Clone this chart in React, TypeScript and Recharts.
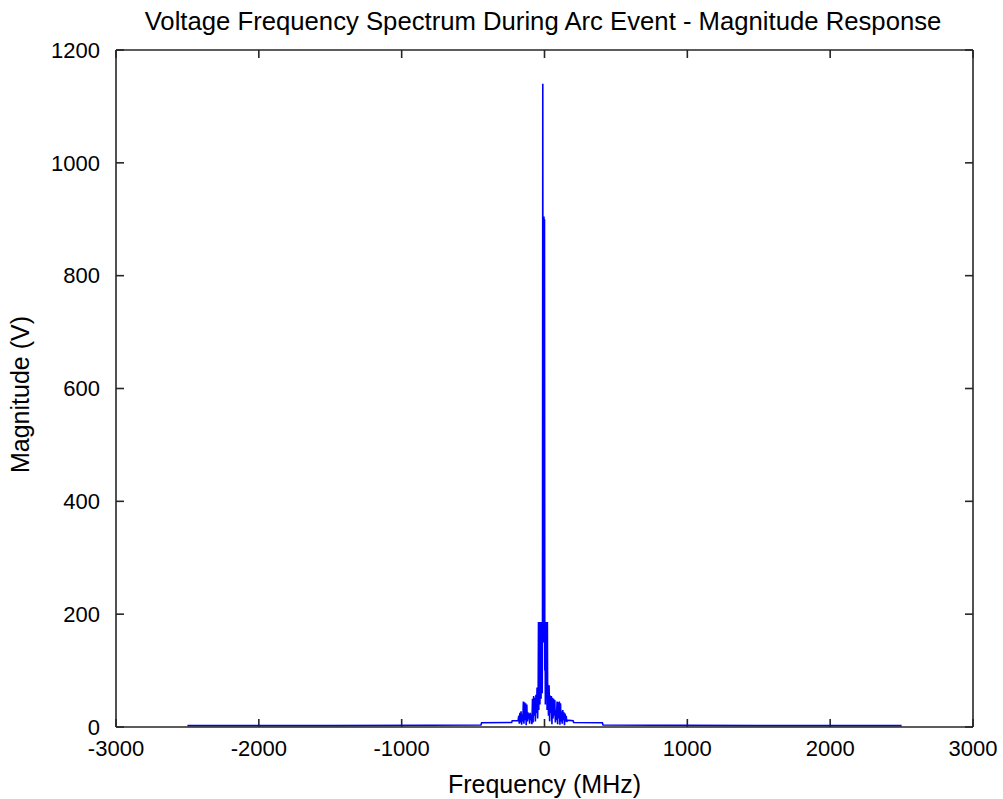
import React from 'react';
import { LineChart, Line, XAxis, YAxis, Label, ReferenceLine } from 'recharts';

// frequency (MHz) and magnitude (V)
const freqMHz = [
    -2500, -1500, -800, -445, -440, -230, -226, -185, -180, -176,
    -172, -168, -164, -160, -156, -152, -148, -144, -140, -136,
    -132, -128, -124, -120, -116, -112, -108, -104, -100, -96,
    -92, -88, -84, -80, -76, -72, -68, -64, -60, -56,
    -52, -48, -44, -42, -40, -38, -36, -34, -32, -30,
    -28, -26, -24, -22, -20, -18, -16, -14, -12, -10,
    -8, -6, -4, -2, 0, 2, 4, 6, 8, 10,
    12, 14, 16, 18, 20, 22, 24, 28, 32, 36,
    40, 44, 48, 52, 56, 60, 64, 68, 72, 76,
    80, 84, 88, 92, 96, 100, 104, 108, 112, 116,
    120, 124, 128, 132, 136, 140, 144, 148, 152, 156,
    160, 200, 204, 405, 410, 1500, 2500,
];
const magnitudeV = [
    2.5, 2.5, 3, 3.5, 7.5, 8, 11, 11, 20, 6,
    25, 8, 28, 4, 22, 10, 45, 6, 44, 12,
    42, 3, 40, 10, 26, 14, 24, 6, 25, 12,
    22, 5, 50, 8, 55, 20, 52, 10, 57, 25,
    70, 15, 75, 186, 30, 185, 60, 186, 40, 184,
    70, 186, 50, 185, 80, 186, 60, 185, 1140, 300,
    905, 150, 905, 200, 900, 100, 186, 40, 185, 70,
    186, 50, 185, 30, 186, 60, 75, 20, 74, 10,
    56, 25, 55, 5, 52, 15, 50, 20, 48, 8,
    30, 12, 45, 5, 44, 15, 45, 4, 42, 10,
    28, 6, 30, 12, 26, 3, 24, 10, 20, 9,
    12, 11, 8, 7.5, 3.5, 2.5, 2.5,
];

const xTicks = [-3000, -2000, -1000, 0, 1000, 2000, 3000];
const yTicks = [0, 200, 400, 600, 800, 1000, 1200];
const X_DOMAIN: [number, number] = [-3000, 3000];
const Y_DOMAIN: [number, number] = [0, 1200];

const data = freqMHz.map((f, i) => ({ freq: f, mag: magnitudeV[i] }));

const FONT = 'Liberation Sans, Arial, sans-serif';
const AXIS_COLOR = '#262626';
const AXIS_W = 1.6;

// plot box is ~857 x 678 px; inward tick length of ~8px in data units
const X_TICK_LEN = (8 / 857) * (X_DOMAIN[1] - X_DOMAIN[0]);
const Y_TICK_LEN = (8 / 678) * (Y_DOMAIN[1] - Y_DOMAIN[0]);

const tickStyle = { fill: '#000', fontSize: 22, fontFamily: FONT };
const axisLine = { stroke: AXIS_COLOR, strokeWidth: AXIS_W };

export default function App() {
    return (
        <div style={{ position: 'absolute', left: 0, top: 0, width: 1003, height: 799, background: '#fff' }}>
            <div
                style={{
                    position: 'absolute',
                    left: 0,
                    width: 1003,
                    top: 7,
                    textAlign: 'center',
                    fontFamily: FONT,
                    fontSize: 25.7,
                    color: '#000',
                    paddingLeft: 83,
                    boxSizing: 'border-box',
                }}
            >
                Voltage Frequency Spectrum During Arc Event - Magnitude Response
            </div>
            <LineChart
                width={1003}
                height={799}
                data={data}
                margin={{ top: 49, right: 0, bottom: 0, left: 0 }}
            >
                <XAxis
                    xAxisId="bottom"
                    dataKey="freq"
                    type="number"
                    domain={X_DOMAIN}
                    ticks={xTicks}
                    orientation="bottom"
                    height={72}
                    axisLine={axisLine}
                    tickLine={false}
                    tickMargin={7}
                    tick={tickStyle}
                    interval={0}
                >
                    <Label
                        value="Frequency (MHz)"
                        position="insideBottom"
                        offset={6}
                        style={{ fill: '#000', fontSize: 25, fontFamily: FONT }}
                    />
                </XAxis>
                <XAxis
                    xAxisId="top"
                    dataKey="freq"
                    type="number"
                    domain={X_DOMAIN}
                    ticks={xTicks}
                    orientation="top"
                    height={1}
                    axisLine={axisLine}
                    tickLine={false}
                    tick={false}
                />
                <YAxis
                    yAxisId="left"
                    type="number"
                    domain={Y_DOMAIN}
                    ticks={yTicks}
                    orientation="left"
                    width={116}
                    axisLine={axisLine}
                    tickLine={false}
                    tickMargin={10}
                    tick={tickStyle}
                    interval={0}
                >
                    <Label
                        value="Magnitude (V)"
                        angle={-90}
                        position="insideLeft"
                        offset={20}
                        dy={6}
                        style={{ fill: '#000', fontSize: 25, fontFamily: FONT, textAnchor: 'middle' }}
                    />
                </YAxis>
                <YAxis
                    yAxisId="right"
                    type="number"
                    domain={Y_DOMAIN}
                    ticks={yTicks}
                    orientation="right"
                    width={30}
                    axisLine={axisLine}
                    tickLine={false}
                    tick={false}
                />
                {xTicks.map((t) => (
                    <ReferenceLine
                        key={`xb${t}`}
                        xAxisId="bottom"
                        yAxisId="left"
                        segment={[{ x: t, y: Y_DOMAIN[0] }, { x: t, y: Y_DOMAIN[0] + Y_TICK_LEN }]}
                        stroke={AXIS_COLOR}
                        strokeWidth={AXIS_W}
                    />
                ))}
                {xTicks.map((t) => (
                    <ReferenceLine
                        key={`xt${t}`}
                        xAxisId="bottom"
                        yAxisId="left"
                        segment={[{ x: t, y: Y_DOMAIN[1] - Y_TICK_LEN }, { x: t, y: Y_DOMAIN[1] }]}
                        stroke={AXIS_COLOR}
                        strokeWidth={AXIS_W}
                    />
                ))}
                {yTicks.map((t) => (
                    <ReferenceLine
                        key={`yl${t}`}
                        xAxisId="bottom"
                        yAxisId="left"
                        segment={[{ x: X_DOMAIN[0], y: t }, { x: X_DOMAIN[0] + X_TICK_LEN, y: t }]}
                        stroke={AXIS_COLOR}
                        strokeWidth={AXIS_W}
                    />
                ))}
                {yTicks.map((t) => (
                    <ReferenceLine
                        key={`yr${t}`}
                        xAxisId="bottom"
                        yAxisId="left"
                        segment={[{ x: X_DOMAIN[1] - X_TICK_LEN, y: t }, { x: X_DOMAIN[1], y: t }]}
                        stroke={AXIS_COLOR}
                        strokeWidth={AXIS_W}
                    />
                ))}
                <Line
                    xAxisId="bottom"
                    yAxisId="left"
                    type="linear"
                    dataKey="mag"
                    stroke="#0000ff"
                    strokeWidth={1.6}
                    dot={false}
                    isAnimationActive={false}
                />
            </LineChart>
        </div>
    );
}
